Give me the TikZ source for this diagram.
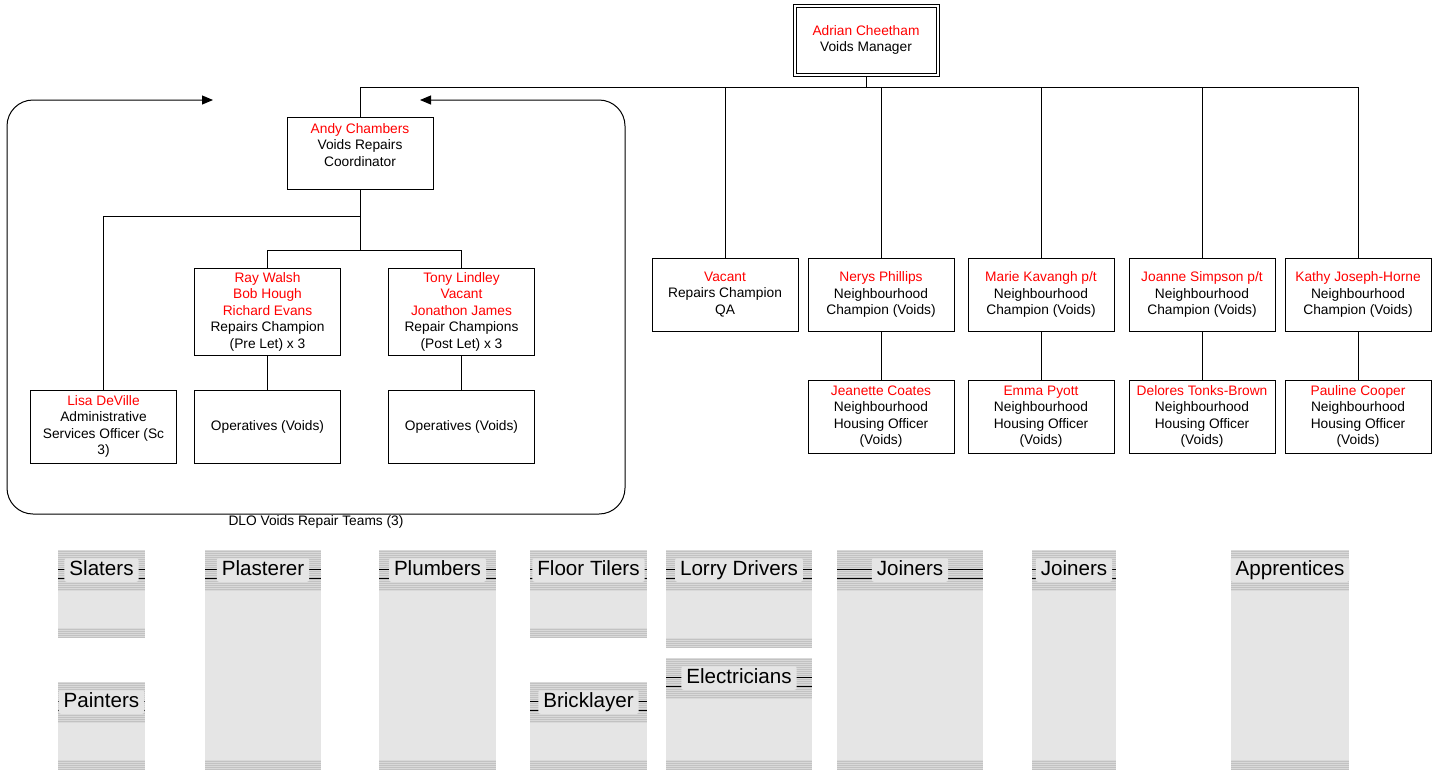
\documentclass[tikz,border=0pt]{standalone}
\usepackage{fontspec}
\setmainfont{Liberation Sans}
\usetikzlibrary{arrows.meta, positioning}

\newcommand{\orgfont}{\fontsize{13.75}{16.5}\selectfont}
\newcommand{\tradefont}{\fontsize{20.6}{24}\selectfont}
\newcommand{\nm}[1]{\textcolor{red}{#1}}

\tikzset{
  post/.style={rectangle, draw, line width=1pt, outer sep=0pt, minimum width=146pt, minimum height=73pt, align=center, inner sep=0pt, font=\orgfont},
  link/.style={line width=1pt},
  stripe/.style={gray!48, line width=1pt},
  tradelabel/.style={fill=gray!20, rounded corners=2pt, inner xsep=5pt, inner ysep=2pt, text height=15pt, text depth=4.5pt, font=\tradefont}
}

% trade panel: name, x1, y1, x2, y2, label
\newcommand{\tradepanel}[6]{%
  \fill[gray!20] (#2,#3) rectangle (#4,#5);
  \fill[gray!30] (#2,#3) rectangle (#4,#3+41);
  \fill[gray!30] (#2,#5-10) rectangle (#4,#5);
  \foreach \s in {1,3,...,39}
    \draw[stripe] (#2,#3+\s) -- (#4,#3+\s);
  \foreach \s in {1,3,...,9}
    \draw[stripe] (#2,#5-\s) -- (#4,#5-\s);
  \draw[line width=0.7pt] (#2,#3+19) -- (#4,#3+19) (#2,#3+28) -- (#4,#3+28);
  \node[tradelabel] (#1) at ({(#2+#4)/2},#3+20) {#6};
}

\begin{document}
\begin{tikzpicture}[x=1pt, y=-1pt]
  \useasboundingbox (0,0) rectangle (1437,772);

  % manager
  \node[post, minimum width=146pt, minimum height=72pt] (mgr) at (866,40) {\nm{Adrian Cheetham}\\Voids Manager};
  \draw[line width=1pt] ([shift={(3,3)}]mgr.north west) rectangle ([shift={(-3,-3)}]mgr.south east);

  % DLO team
  \node[post, minimum height=72pt] (andy) at (360,153) {\nm{Andy Chambers}\\Voids Repairs\\Coordinator\\~};
  \node[post, minimum height=87pt] (ray) at (267.5,311.5) {\nm{Ray Walsh}\\\nm{Bob Hough}\\\nm{Richard Evans}\\Repairs Champion\\(Pre Let) x 3};
  \node[post, minimum height=87pt, right=48pt of ray] (tony) {\nm{Tony Lindley}\\\nm{Vacant}\\\nm{Jonathon James}\\Repair Champions\\(Post Let) x 3};
  \node[post, below=35pt of ray] (opsPre) {Operatives (Voids)};
  \node[post, below=35pt of tony] (opsPost) {Operatives (Voids)};
  \node[post, left=18pt of opsPre] (lisa) {\nm{Lisa DeVille}\\Administrative\\Services Officer (Sc\\3)};

  % champions
  \node[post] (qa) at (725,294.5) {\nm{Vacant}\\Repairs Champion\\QA};
  \node[post, right=10pt of qa] (nerys) {\nm{Nerys Phillips}\\Neighbourhood\\Champion (Voids)};
  \node[post, right=14pt of nerys] (marie) {\nm{Marie Kavangh p/t}\\Neighbourhood\\Champion (Voids)};
  \node[post, right=15pt of marie] (joanne) {\nm{Joanne Simpson p/t}\\Neighbourhood\\Champion (Voids)};
  \node[post, right=10pt of joanne] (kathy) {\nm{Kathy Joseph-Horne}\\Neighbourhood\\Champion (Voids)};

  % housing officers
  \node[post, below=49pt of nerys] (jeanette) {\nm{Jeanette Coates}\\Neighbourhood\\Housing Officer\\(Voids)};
  \node[post, below=49pt of marie] (emma) {\nm{Emma Pyott}\\Neighbourhood\\Housing Officer\\(Voids)};
  \node[post, below=49pt of joanne] (delores) {\nm{Delores Tonks-Brown}\\Neighbourhood\\Housing Officer\\(Voids)};
  \node[post, below=49pt of kathy] (pauline) {\nm{Pauline Cooper}\\Neighbourhood\\Housing Officer\\(Voids)};

  % connectors
  \foreach \n in {andy, qa, nerys, marie, joanne, kathy}
    \draw[link] (mgr.south) -- ++(0,11) -| (\n.north);
  \draw[link] (andy.south) -- ++(0,27) -| (lisa.north);
  \draw[link] (andy.south) -- ++(0,61) -| (ray.north);
  \draw[link] (andy.south) -- ++(0,61) -| (tony.north);
  \draw[link] (ray) -- (opsPre);
  \draw[link] (tony) -- (opsPost);
  \draw[link] (nerys) -- (jeanette);
  \draw[link] (marie) -- (emma);
  \draw[link] (joanne) -- (delores);
  \draw[link] (kathy) -- (pauline);

  % team boundary
  \coordinate (teamNW) at (7,100);
  \coordinate (teamNE) at (625,100);
  \coordinate (teamSE) at (625,514);
  \coordinate (teamSW) at (7,514);
  \draw[link, {Triangle[length=11pt,width=9pt]}-{Triangle[length=11pt,width=9pt]}, rounded corners=26pt]
    (420,100) -- (teamNE) -- (teamSE) -- (teamSW) -- (teamNW) -- (213,100);
  \node[font=\orgfont] (teams) at (316,522) {DLO Voids Repair Teams (3)};

  % trades
  \tradepanel{slaters}{58}{550}{145}{638}{Slaters}
  \tradepanel{painters}{58}{682}{145}{770}{Painters}
  \tradepanel{plasterer}{205}{550}{321}{770}{Plasterer}
  \tradepanel{plumbers}{379}{550}{496}{770}{Plumbers}
  \tradepanel{tilers}{530}{550}{647}{638}{Floor Tilers}
  \tradepanel{bricklayer}{530}{682}{647}{770}{Bricklayer}
  \tradepanel{drivers}{666}{550}{812}{648}{Lorry Drivers}
  \tradepanel{electricians}{666}{658}{812}{770}{Electricians}
  \tradepanel{joinersA}{837}{550}{983}{770}{Joiners}
  \tradepanel{joinersB}{1032}{550}{1116}{770}{Joiners}
  \tradepanel{apprentices}{1231}{550}{1349}{770}{Apprentices}
\end{tikzpicture}
\end{document}
